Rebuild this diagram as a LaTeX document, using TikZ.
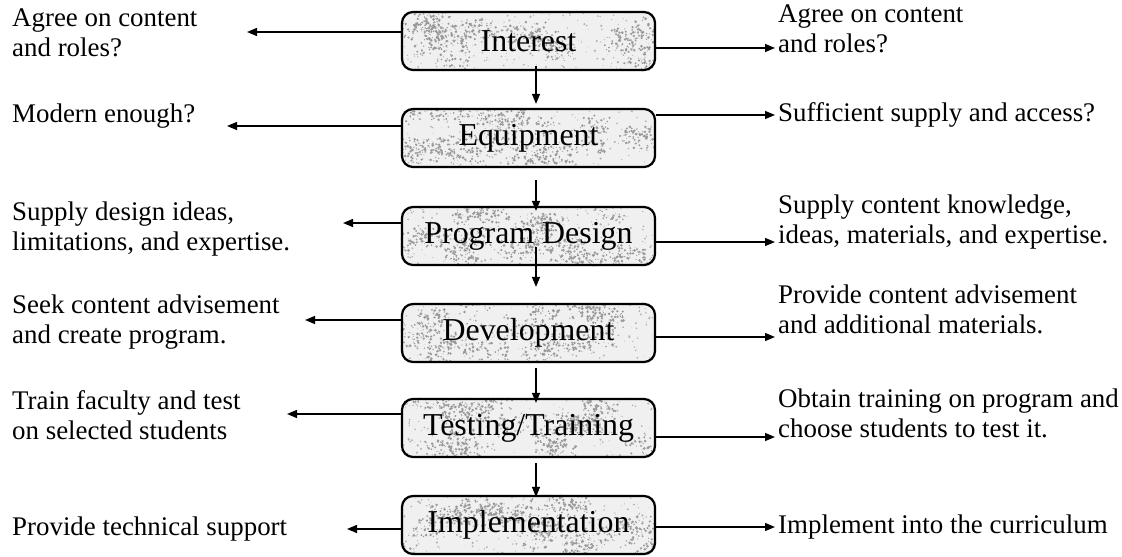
\documentclass[tikz,border=0pt]{standalone}
\usepackage{fontspec}
\setmainfont{Liberation Serif}
\usetikzlibrary{arrows.meta, calc}

\pgfdeclarelayer{background}
\pgfsetlayers{background,main}

\tikzset{
	stage/.style = {draw, line width=2.2bp, rounded corners=11bp, minimum width=253bp, minimum height=58bp, inner sep=0pt, font=\fontsize{32}{36}\selectfont},
	note/.style = {anchor=north west, inner sep=0pt, align=left, font=\fontsize{27}{30}\selectfont},
	link/.style = {line width=1.3bp, -{Triangle[length=10bp, width=8bp]}},
}

\begin{document}
\begin{tikzpicture}[x=1bp, y=-1bp]
	\useasboundingbox (0, 0) rectangle (1122, 557);
	
	% the stages, top to bottom
	\node[stage] (interest) at (528.5, 41) {Interest};
	\node[stage] (equip) at (528.5, 138) {Equipment};
	\node[stage] (design) at (528.5, 236) {Program Design};
	\node[stage] (devel) at (528.5, 333) {Development};
	\node[stage] (testing) at (528.5, 428) {Testing/Training};
	\node[stage] (impl) at (528.5, 525) {Implementation};
	
	% mottled grey behind each stage: light scatter plus darker blotches
	\pgfmathsetseed{42}
	\begin{pgfonlayer}{background}
		\foreach \s in {interest, equip, design, devel, testing, impl} {
			\fill[gray!12, rounded corners=11bp] (\s.north west) rectangle (\s.south east);
			\begin{scope}
				\clip[rounded corners=11bp] (\s.north west) rectangle (\s.south east);
				\foreach \k in {1, ..., 200}
					\fill[gray!60] ($(\s.north west) + (253*rnd, 58*rnd)$) circle[radius={0.3bp + 0.9bp*rnd}];
				\foreach \c in {1, ..., 22} {
					\pgfmathsetmacro{\cx}{253*rnd}
					\pgfmathsetmacro{\cy}{58*rnd}
					\foreach \k in {1, ..., 34}
						\fill[gray!80] ($(\s.north west) + (\cx + 16*rand, \cy + 9*rand)$) circle[radius={0.4bp + 1.1bp*rnd}];
				}
			\end{scope}
		}
	\end{pgfonlayer}
	
	% downward flow
	\coordinate (axis) at (536, 0);
	\draw[link, shorten <=-5bp, shorten >=4bp] (interest.south -| axis) -- (equip.north -| axis);
	\draw[link, shorten <=12bp, shorten >=-5bp] (equip.south -| axis) -- (design.north -| axis);
	\draw[link, shorten <=-19bp, shorten >=16bp] (design.south -| axis) -- (devel.north -| axis);
	\draw[link, shorten <=5bp, shorten >=-5bp] (devel.south -| axis) -- (testing.north -| axis);
	\draw[link, shorten <=5bp, shorten >=-2bp] (testing.south -| axis) -- (impl.north -| axis);
	
	% side arrows: stage/left tip x/left y/right y
	\foreach \s/\lx/\ly/\ry in {interest/247/32/48, equip/227/126/115, design/343/223/242, devel/305/320/337, testing/287/414/437, impl/347/529/527} {
		\coordinate (\s-l) at (\lx, \ly);
		\coordinate (\s-r) at (775, \ry);
		\draw[link] (\s.west |- \s-l) -- (\s-l);
		\draw[link] (\s.east |- \s-r) -- (\s-r);
	}
	
	% left column
	\node[note] (interest-lt) at (12, 9) {Agree on content\\and roles?};
	\node[note] (equip-lt) at (12, 104) {Modern enough?};
	\node[note] (design-lt) at (12, 202) {Supply design ideas,\\limitations, and expertise.};
	\node[note] (devel-lt) at (12, 295) {Seek content advisement\\and create program.};
	\node[note] (testing-lt) at (12, 390) {Train faculty and test\\on selected students};
	\node[note] (impl-lt) at (12, 517) {Provide technical support};
	
	% right column
	\node[note] (interest-rt) at (778, 5) {Agree on content\\and roles?};
	\node[note] (equip-rt) at (778, 102) {Sufficient supply and access?};
	\node[note] (design-rt) at (778, 195) {Supply content knowledge,\\ideas, materials, and expertise.};
	\node[note] (devel-rt) at (778, 285) {Provide content advisement\\and additional materials.};
	\node[note] (testing-rt) at (778, 389) {Obtain training on program and\\choose students to test it.};
	\node[note] (impl-rt) at (778, 515) {Implement into the curriculum};
\end{tikzpicture}
\end{document}
